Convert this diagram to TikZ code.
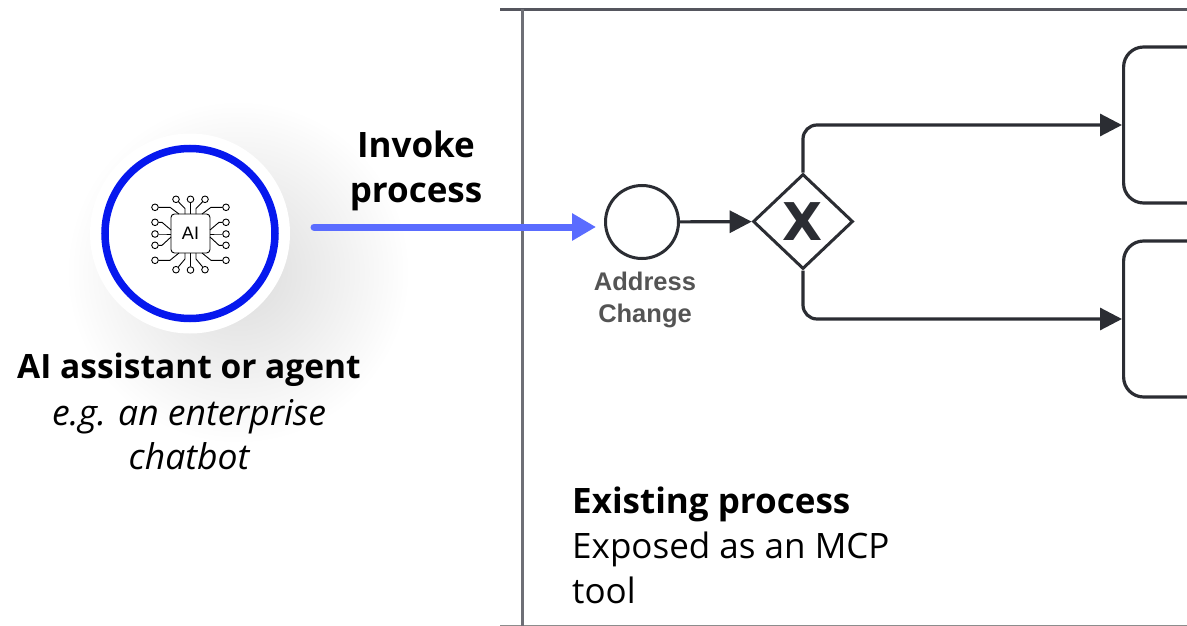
\documentclass[tikz,border=0pt]{standalone}
\usepackage{fontspec}
\setmainfont{Open Sans}
\newfontfamily\labelfont{Liberation Sans}
\newfontfamily\markfont{DejaVu Sans}
\usetikzlibrary{shapes.geometric,arrows.meta}
\definecolor{ringblue}{HTML}{0618EE}
\definecolor{flowblue}{HTML}{5A6CFF}
\definecolor{linedark}{HTML}{2B2D33}
\definecolor{lanegray}{HTML}{55565E}
\tikzset{
    pin/.style={circle,draw=black,line width=0.9pt,fill=white,inner sep=0pt,minimum size=6.6pt},
    task/.style={rectangle,draw=linedark,line width=3.2pt,rounded corners=20pt,anchor=west,minimum width=150pt},
    flow/.style={draw=linedark,line width=3.2pt,rounded corners=14pt,-{Triangle[length=22pt,width=22pt]}}
}
\begin{document}
\begin{tikzpicture}[x=1pt,y=-1pt]
    \useasboundingbox (0,0) rectangle (1187,626);
    \clip (0,0) rectangle (1187,626);
    % soft shadow behind the assistant
    \shade[inner color=black!14,outer color=white] (238,272) circle (172pt);
    \node[circle,fill=white,minimum size=200pt,inner sep=0pt] (halo) at (190,233.5) {};
    \node[circle,draw=ringblue,line width=7.5pt,minimum size=170pt,inner sep=0pt] (ring) at (190,233.5) {};
    % chip icon
    \node[rectangle,draw=black,line width=0.9pt,rounded corners=3.5pt,minimum size=39pt,inner sep=0pt,
        font=\labelfont\fontsize{18}{18}\selectfont] (chip) at (190.5,233.5) {AI};
    \foreach \name/\px/\py/\bx/\by/\ex/\ey in {
        ta/176/199.3/185/208.5/185/214, tb/190.5/199.3/190.5/207/190.5/214, tc/205/199.3/196/208.5/196/214,
        ua/155/207.3/170/207.3/179/214, ub/226/207.3/211/207.3/202/214,
        la/155/222.3/162/222.3/171/230, lb/155/234/163/234/171/234, lc/155/245.3/162/245.3/171/237,
        ra/226/222.3/219/222.3/210/230, rb/226/234/218/234/210/234, rc/226/245.3/219/245.3/210/237,
        va/155/260.3/170/260.3/179/253, vb/226/260.3/211/260.3/202/253,
        ba/176/269.7/185/259/185/253, bb/190.5/270/190.5/260/190.5/253, bc/205/269.7/196/259/196/253}{
        \coordinate (\name end) at (\ex,\ey);
        \node[pin] (\name) at (\px,\py) {};
        \draw[line width=0.9pt] (\name) -- (\bx,\by) -- (\name end);
    }
    \node[font=\bfseries\fontsize{33.5}{33.5}\selectfont] (agent) at (189,370) {AI assistant or agent};
    \node[align=center,font=\itshape\fontsize{35.5}{44}\selectfont] (example) at (189,435) {e.g. an enterprise\\chatbot};
    % process frame
    \draw[lanegray,line width=2.6pt] (500,9.5) -- (1187,9.5);
    \draw[black!45,line width=1.6pt] (500,625.5) -- (1187,625.5);
    \draw[lanegray!85,line width=3pt] (522,9.5) -- (522,626);
    % process
    \node[circle,draw=linedark,line width=3pt,minimum size=73pt,inner sep=0pt] (start) at (642,222) {};
    \node[diamond,draw=linedark,line width=3pt,minimum width=100pt,minimum height=95pt,inner sep=0pt,
        font=\markfont\bfseries\fontsize{52}{52}\selectfont,text=linedark] (gate) at (803,221.5) {X};
    \node[task,minimum height=156pt] (upper) at (1122,125) {};
    \node[task,minimum height=156pt] (lower) at (1122,319) {};
    \draw[flow] (start) -- (gate);
    \draw[flow] (gate.north) |- (upper.west);
    \draw[flow] (gate.south) |- (lower.west);
    \node[align=center,text=black!67,font=\labelfont\bfseries\fontsize{25.5}{32}\selectfont] (event) at (645,300) {Address\\Change};
    % invoke arrow
    \coordinate (agentout) at (314,227);
    \coordinate (eventin) at (596,227);
    \draw[flowblue,line width=7pt,line cap=round,-{Triangle[length=24pt,width=26pt]}] (agentout) -- (eventin);
    \node[align=center,font=\bfseries\fontsize{35}{45}\selectfont] (invoke) at (416,171) {Invoke\\process};
    \node[align=left,anchor=north west,inner sep=0pt,font=\fontsize{35}{45}\selectfont] (caption) at (572,487) {\textbf{Existing process}\\Exposed as an MCP\\tool};
\end{tikzpicture}
\end{document}
